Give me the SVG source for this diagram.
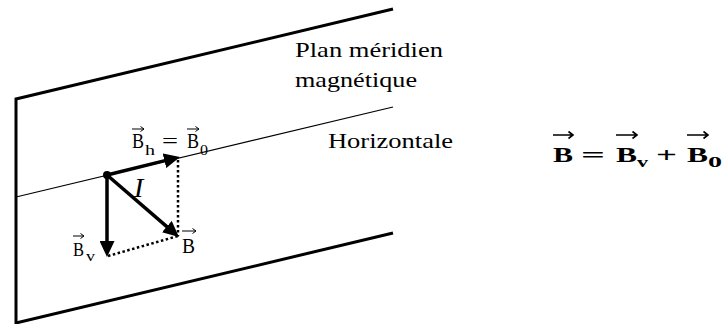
<svg xmlns="http://www.w3.org/2000/svg" width="724" height="324" viewBox="0 0 724 324">
  <style>
    .edge { stroke: #000; stroke-width: 3; fill: none; }
    .thin { stroke: #000; stroke-width: 1.2; fill: none; }
    .vec { stroke: #000; stroke-width: 3.5; fill: none; }
    .dot { stroke: #000; stroke-width: 2.5; fill: none; stroke-dasharray: 2.5 2.5; }
    .acc { stroke: #000; stroke-width: 1; fill: none; }
    .accb { stroke: #000; stroke-width: 1.6; fill: none; }
    .t { font-family: 'Liberation Serif', 'Times New Roman', 'DejaVu Serif', serif; fill: #000; }
    .lbl { font-size: 21px; }
    .sub { font-size: 15px; }
    .eq { font-size: 21px; font-weight: bold; }
    .eqs { font-size: 15px; font-weight: bold; }
  </style>
  <defs>
    <marker id="ah" markerUnits="userSpaceOnUse" markerWidth="17" markerHeight="15" refX="8" refY="7.5" orient="auto">
      <path d="M0,0 L16,7.5 L0,15 z" fill="#000"/>
    </marker>
  </defs>

  <g id="plane">
    <polyline class="edge" points="393,9 16,99 16,323 393,233"/>
  </g>
  <g id="horizontal">
    <line class="thin" x1="16" y1="197" x2="393" y2="107"/>
  </g>

  <g id="connectors">
    <line class="vec" x1="107" y1="175" x2="172.2" y2="158.9" marker-end="url(#ah)"/>
    <line class="vec" x1="107" y1="175" x2="172.9" y2="231.8" marker-end="url(#ah)"/>
    <line class="vec" x1="107" y1="175" x2="107" y2="249" marker-end="url(#ah)"/>
    <line class="dot" x1="178" y1="160" x2="178" y2="236"/>
    <line class="dot" x1="108" y1="256" x2="178" y2="236"/>
  </g>

  <g id="origin">
    <circle cx="107" cy="175" r="4" fill="#000"/>
  </g>

  <g font-family="Liberation Serif, serif">
  <g id="label-plan">
    <text x="295" y="57" class="t lbl" textLength="148" lengthAdjust="spacingAndGlyphs">Plan méridien</text>
    <text x="295" y="87" class="t lbl" textLength="122" lengthAdjust="spacingAndGlyphs">magnétique</text>
  </g>
  <g id="label-horizontale">
    <text x="328" y="148" class="t lbl" textLength="125" lengthAdjust="spacingAndGlyphs">Horizontale</text>
  </g>

  <g id="label-bh">
    <text x="132" y="148" class="t lbl" textLength="12" lengthAdjust="spacingAndGlyphs">B</text>
    <text x="145" y="155" class="t sub" textLength="10" lengthAdjust="spacingAndGlyphs">h</text>
    <text x="162" y="148" class="t lbl" textLength="16" lengthAdjust="spacingAndGlyphs">=</text>
    <text x="187" y="148" class="t lbl" textLength="12" lengthAdjust="spacingAndGlyphs">B</text>
    <text x="200" y="155" class="t sub" textLength="8" lengthAdjust="spacingAndGlyphs">0</text>
    <path class="acc" d="M132,129 H144 M140.5,126.5 L144,129 L140.5,131.5"/>
    <path class="acc" d="M187,129 H199 M195.5,126.5 L199,129 L195.5,131.5"/>
  </g>

  <g id="label-i">
    <text x="134" y="197" class="t" font-size="28" font-style="italic">I</text>
  </g>

  <g id="label-bv">
    <text x="73" y="256" class="t" font-size="19" textLength="11" lengthAdjust="spacingAndGlyphs">B</text>
    <text x="86" y="261" class="t" font-size="14" textLength="9" lengthAdjust="spacingAndGlyphs">v</text>
    <path class="acc" d="M73,236 H84 M80.5,233.5 L84,236 L80.5,238.5"/>
  </g>

  <g id="label-b">
    <text x="182" y="253" class="t lbl" textLength="13" lengthAdjust="spacingAndGlyphs">B</text>
    <path class="acc" d="M182,231 H196 M192.5,228.5 L196,231 L192.5,233.5"/>
  </g>

  <g id="equation">
    <text x="553" y="162" class="t eq" textLength="20" lengthAdjust="spacingAndGlyphs">B</text>
    <text x="581" y="162" class="t eq" textLength="24" lengthAdjust="spacingAndGlyphs">=</text>
    <text x="616" y="162" class="t eq" textLength="21" lengthAdjust="spacingAndGlyphs">B</text>
    <text x="637" y="167" class="t eqs" textLength="11" lengthAdjust="spacingAndGlyphs">v</text>
    <text x="656" y="162" class="t eq" textLength="21" lengthAdjust="spacingAndGlyphs">+</text>
    <text x="687" y="162" class="t eq" textLength="21" lengthAdjust="spacingAndGlyphs">B</text>
    <text x="708" y="167" class="t eqs" textLength="14" lengthAdjust="spacingAndGlyphs">0</text>
    <path class="accb" d="M553,135 H573 M568.5,131.5 L573,135 L568.5,138.5"/>
    <path class="accb" d="M616,135 H637 M632.5,131.5 L637,135 L632.5,138.5"/>
    <path class="accb" d="M687,135 H708 M703.5,131.5 L708,135 L703.5,138.5"/>
  </g>
  </g>
</svg>
